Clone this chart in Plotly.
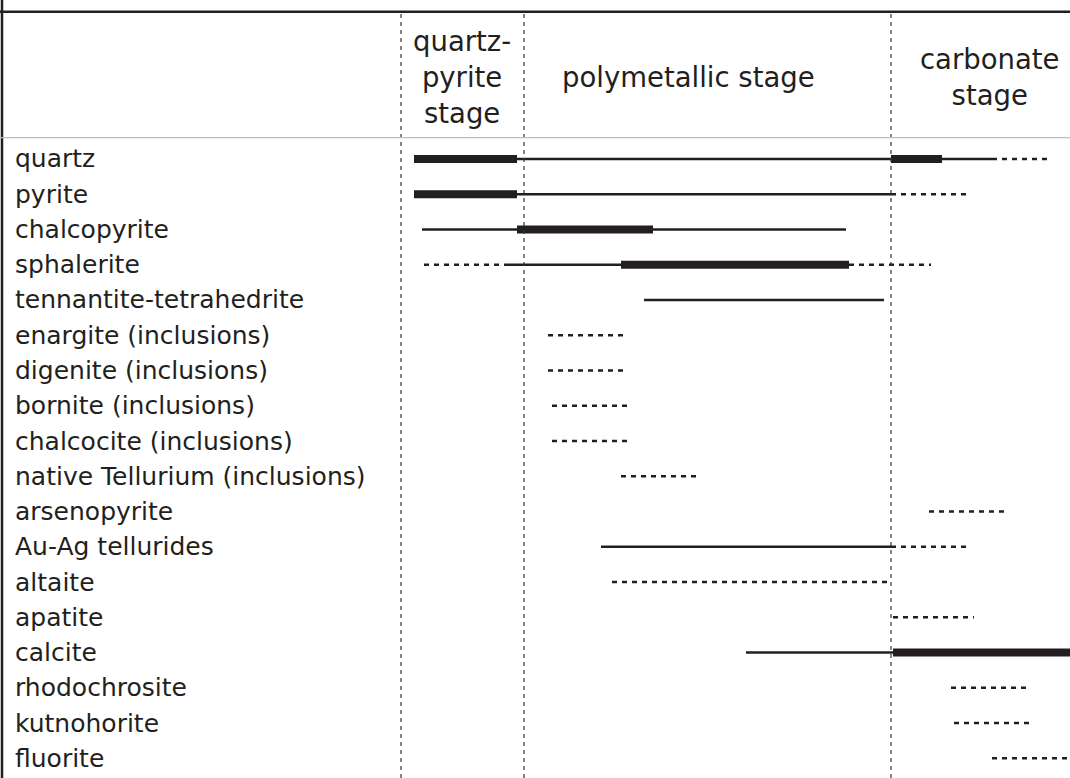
import plotly.graph_objects as go

# Minerals, top to bottom
minerals = [
    "quartz", "pyrite", "chalcopyrite", "sphalerite", "tennantite-tetrahedrite",
    "enargite (inclusions)", "digenite (inclusions)", "bornite (inclusions)",
    "chalcocite (inclusions)", "native Tellurium (inclusions)", "arsenopyrite",
    "Au-Ag tellurides", "altaite", "apatite", "calcite", "rhodochrosite",
    "kutnohorite", "fluorite",
]

# Stage boundaries on the relative time axis (0 = left edge, 1070 = right edge)
stage_bounds = [401, 524, 891]
stage_names = ["quartz-<br>pyrite<br>stage", "polymetallic stage", "carbonate<br>stage"]
stage_centers = [462, 688, 990]

# Abundance segments: (mineral, start, end)
major = [  # abundant
    ("quartz", 414, 517), ("quartz", 891, 942),
    ("pyrite", 414, 517),
    ("chalcopyrite", 517, 653),
    ("sphalerite", 621, 849),
    ("calcite", 893, 1070),
]
minor = [  # common
    ("quartz", 517, 891), ("quartz", 942, 992),
    ("pyrite", 517, 891),
    ("chalcopyrite", 422, 517), ("chalcopyrite", 653, 846),
    ("sphalerite", 507, 621),
    ("tennantite-tetrahedrite", 644, 884),
    ("Au-Ag tellurides", 601, 891),
    ("calcite", 746, 893),
]
rare = [  # rare / occasional
    ("quartz", 992, 1050),
    ("pyrite", 891, 971),
    ("sphalerite", 424, 507), ("sphalerite", 849, 931),
    ("enargite (inclusions)", 548, 628),
    ("digenite (inclusions)", 548, 628),
    ("bornite (inclusions)", 552, 632),
    ("chalcocite (inclusions)", 552, 632),
    ("native Tellurium (inclusions)", 621, 700),
    ("arsenopyrite", 929, 1009),
    ("Au-Ag tellurides", 891, 968),
    ("altaite", 612, 891),
    ("apatite", 893, 974),
    ("rhodochrosite", 951, 1031),
    ("kutnohorite", 954, 1034),
    ("fluorite", 992, 1070),
]

row = {m: i for i, m in enumerate(minerals)}
FONT = "DejaVu Sans, Verdana, sans-serif"
INK = "#231f20"


def seg_xy(segs):
    xs, ys = [], []
    for name, a, b in segs:
        xs += [a, b, None]
        ys += [row[name], row[name], None]
    return xs, ys


fig = go.Figure()
for segs, width, dash in [(minor, 2.6, "solid"), (rare, 2.6, "5px,5px"), (major, 8, "solid")]:
    xs, ys = seg_xy(segs)
    fig.add_trace(go.Scatter(
        x=xs, y=ys, mode="lines", hoverinfo="skip", showlegend=False,
        line=dict(color=INK, width=width, dash=dash),
    ))

shapes = []
# stage boundary lines
for xb in stage_bounds:
    shapes.append(dict(type="line", xref="x", yref="paper", x0=xb, x1=xb, y0=0, y1=0.985,
                       line=dict(color="#333333", width=1.2, dash="4px,4px")))
# table frame
shapes.append(dict(type="line", xref="paper", yref="paper", x0=0, x1=1, y0=0.985, y1=0.985,
                   line=dict(color=INK, width=2.5)))
shapes.append(dict(type="line", xref="x", yref="paper", x0=2, x1=2, y0=0, y1=1,
                   line=dict(color=INK, width=2.5)))
shapes.append(dict(type="line", xref="paper", yref="paper", x0=0, x1=1, y0=0.823, y1=0.823,
                   line=dict(color="#bdbdbd", width=1.2)))

annotations = []
for m in minerals:
    annotations.append(dict(x=13, y=row[m], xref="x", yref="y", text=m, showarrow=False,
                            xanchor="left", yanchor="middle",
                            font=dict(family=FONT, size=25, color=INK)))
for name, cx in zip(stage_names, stage_centers):
    annotations.append(dict(x=cx, y=-2.33, xref="x", yref="y", text=name, showarrow=False,
                            xanchor="center", yanchor="middle", align="center",
                            font=dict(family=FONT, size=27.5, color=INK)))

fig.update_layout(
    width=1070, height=778,
    margin=dict(l=0, r=0, t=0, b=0),
    paper_bgcolor="white", plot_bgcolor="white",
    xaxis=dict(range=[0, 1070], visible=False, fixedrange=True),
    yaxis=dict(range=[17.56, -4.51], visible=False, fixedrange=True),
    shapes=shapes, annotations=annotations,
)

fig.write_html("out.html")
